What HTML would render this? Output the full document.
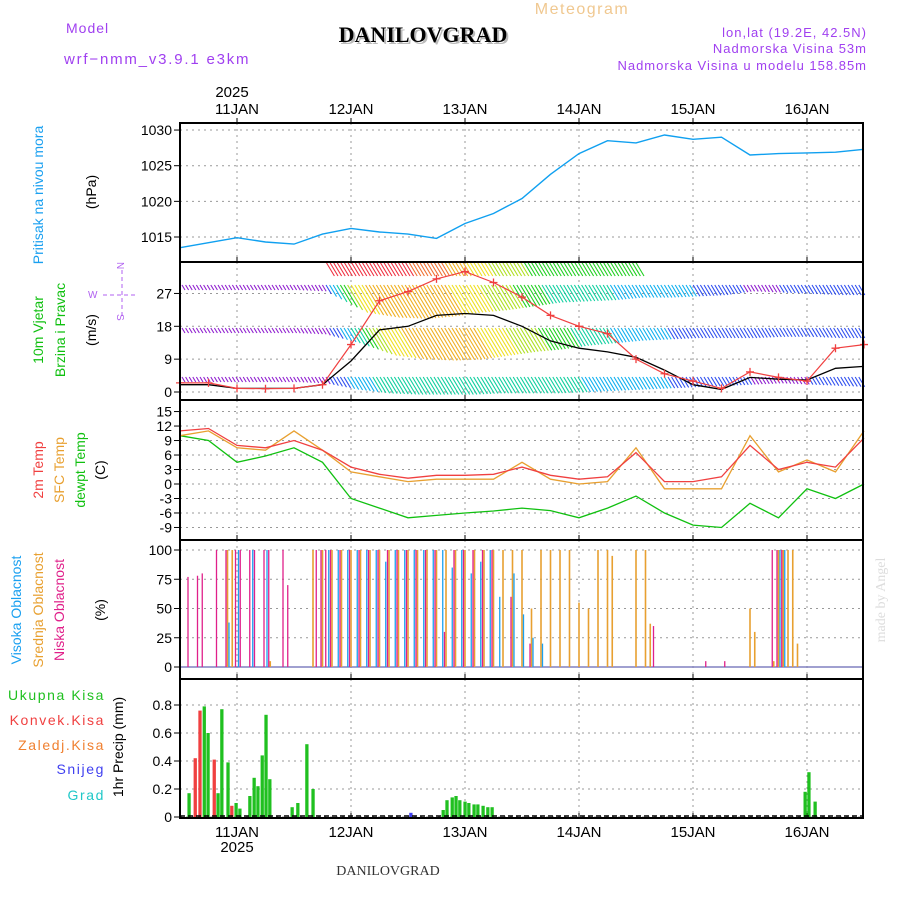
<!DOCTYPE html>
<html><head><meta charset="utf-8"><style>
html,body{margin:0;padding:0;background:#fff;}
svg{display:block;font-family:"Liberation Sans",sans-serif;}
</style></head><body>
<svg id="chart" width="900" height="900" viewBox="0 0 900 900">
<text x="66" y="33" font-size="14" fill="#a040f0" letter-spacing="1">Model</text>
<text x="64" y="64" font-size="15" fill="#a040f0" letter-spacing="1.8">wrf−nmm_v3.9.1 e3km</text>
<text x="582" y="14" font-size="16" fill="#f0c890" text-anchor="middle" letter-spacing="1.5">Meteogram</text>
<text x="425" y="44" font-size="22" font-weight="bold" font-family="Liberation Serif,serif" fill="#bbb" text-anchor="middle">DANILOVGRAD</text>
<text x="423" y="42" font-size="22" font-weight="bold" font-family="Liberation Serif,serif" fill="#000" text-anchor="middle">DANILOVGRAD</text>
<text x="867" y="37" font-size="13" fill="#a040f0" text-anchor="end" letter-spacing="1">lon,lat (19.2E, 42.5N)</text>
<text x="867" y="53" font-size="13" fill="#a040f0" text-anchor="end" letter-spacing="1">Nadmorska Visina 53m</text>
<text x="867" y="70" font-size="13" fill="#a040f0" text-anchor="end" letter-spacing="1">Nadmorska Visina u modelu 158.85m</text>
<text x="232" y="97" font-size="15" fill="#000" text-anchor="middle">2025</text>
<text x="237" y="852" font-size="15" fill="#000" text-anchor="middle">2025</text>
<text x="388" y="875" font-size="14" font-family="Liberation Serif,serif" fill="#333" text-anchor="middle">DANILOVGRAD</text>
<text transform="translate(885,600) rotate(-90)" font-size="14" font-family="Liberation Serif,serif" fill="#ddd" text-anchor="middle">made by Angel</text>

<g font-size="14">
<text transform="translate(43,195) rotate(-90)" fill="#1aa0f0" text-anchor="middle">Pritisak na nivou mora</text>
<text transform="translate(96,192) rotate(-90)" fill="#000" text-anchor="middle">(hPa)</text>
<text transform="translate(43,330) rotate(-90)" fill="#10c010" text-anchor="middle">10m Vjetar</text>
<text transform="translate(65,330) rotate(-90)" fill="#10c010" text-anchor="middle">Brzina i Pravac</text>
<text transform="translate(96,330) rotate(-90)" fill="#000" text-anchor="middle">(m/s)</text>
<text transform="translate(43,470) rotate(-90)" fill="#f04040" text-anchor="middle">2m Temp</text>
<text transform="translate(64,470) rotate(-90)" fill="#e8a030" text-anchor="middle">SFC Temp</text>
<text transform="translate(85,470) rotate(-90)" fill="#10c010" text-anchor="middle">dewpt Temp</text>
<text transform="translate(105,470) rotate(-90)" fill="#000" text-anchor="middle">(C)</text>
<text transform="translate(21,610) rotate(-90)" fill="#1aa0f0" text-anchor="middle">Visoka Oblacnost</text>
<text transform="translate(43,610) rotate(-90)" fill="#e8a030" text-anchor="middle">Srednja Oblacnost</text>
<text transform="translate(64,610) rotate(-90)" fill="#e0208a" text-anchor="middle">Niska Oblacnost</text>
<text transform="translate(105,610) rotate(-90)" fill="#000" text-anchor="middle">(%)</text>
<text transform="translate(123,747) rotate(-90)" fill="#000" text-anchor="middle">1hr Precip (mm)</text>
<text x="105" y="700" fill="#20c020" text-anchor="end" letter-spacing="1.6">Ukupna Kisa</text>
<text x="105" y="725" fill="#f04040" text-anchor="end" letter-spacing="1.6">Konvek.Kisa</text>
<text x="105" y="750" fill="#f08030" text-anchor="end" letter-spacing="1.6">Zaledj.Kisa</text>
<text x="105" y="774" fill="#4040f0" text-anchor="end" letter-spacing="1.6">Snijeg</text>
<text x="105" y="800" fill="#20c8c8" text-anchor="end" letter-spacing="1.6">Grad</text>
</g>
<g fill="#b060f0" stroke="#b060f0" font-size="10">
<text x="88" y="298" stroke="none">W</text><text x="117" y="270" stroke="none" transform="rotate(90 121 266)">N</text>
<text x="117" y="322" stroke="none" transform="rotate(90 121 318)">S</text>
<line x1="103" y1="295" x2="138" y2="295" stroke-dasharray="4,3"/><line x1="122" y1="270" x2="122" y2="318" stroke-dasharray="4,3"/>
</g>
<g id="plots"></g>
</svg>
<script>
// ---- data (6-hourly points from 10 JAN 12 UTC) ----
const dayLabels = ["11JAN","12JAN","13JAN","14JAN","15JAN","16JAN"];
const pressure = [1013.5,1014.2,1014.9,1014.3,1014.0,1015.4,1016.2,1015.7,1015.4,1014.8,1016.9,1018.3,1020.4,1023.8,1026.7,1028.5,1028.2,1029.3,1028.7,1029.0,1026.5,1026.7,1026.8,1026.9,1027.3];
const pressureTicks = [1015,1020,1025,1030];
const windTicks = [0,9,18,27];
const gust = [2.5,2.5,1,0.9,1,2,13,25,27.5,31,33,30,26,21,18,16,9,5,3,1,5.5,4,3,12,13];
const wind10 = [2,2,1,1,1,2,8.5,17,18,21,21.5,21,18,14,12,11,9.5,6,2,0.7,4,3.5,3.3,6.5,7];
const barbL1 = [0,0,0,0,0,0,30,31,30,28,24,20,18,17,16,15,0,0,0,0,0,0,0,0,0];
const barbL2 = [4,4,4,4,4,5,22,26,27,25,22,20,17,14,13,12,10,10,9,8,5,6,7,8,8];
const barbL3 = [4,4,4,4,4,5,12,22,25,26,25,22,19,17,14,12,10,9,8,8,8,7,7,8,8];
const barbL4 = [4,4,4,4,4,5,10,13,14,14,14,13,13,13,12,11,10,9,8,7,6,5,6,7,8];
const tempTicks = [-9,-6,-3,0,3,6,9,12,15];
const temp2m = [11,11.5,8,7.5,9,7,3.5,2,1.2,1.8,1.8,2,3.5,1.8,1,1.5,6.5,0.5,0.5,1.5,8,3,4.5,3.5,9.5];
const tempSfc = [10,11,7.5,7,11,7,2.5,1.5,0.5,1,1,1,4.5,1,0,0.5,7.5,-1,-1,-1,10,2.5,5,2.5,11];
const dewpt = [10,9,4.5,5.8,7.5,4.5,-3,-5,-7,-6.5,-6,-5.6,-5,-5.5,-7,-5,-2.5,-6,-8.5,-9,-4,-7,-1,-3,0];
const cloudTicks = [0,25,50,75,100];
// cloud: [hour, percent]
const lowCloud = [[2,77],[4,78],[5,80],[8,100],[10,100],[12,100],[13,100],[15,100],[16,100],[18,100],[19,100],[22,100],[23,70],[29,100],[30,100],[31,100],[32,100],[34,100],[36,100],[38,100],[40,100],[42,100],[44,100],[46,100],[48,100],[50,100],[52,100],[54,100],[56,30],[58,100],[60,100],[62,100],[64,100],[66,100],[70,60],[74,20],[100,35],[111,5],[115,5],[125,100],[126,100],[127,100]];
const midCloud = [[10,100],[11,100],[19,5],[28,100],[30,100],[32,100],[34,100],[36,100],[38,100],[40,100],[42,100],[44,100],[46,100],[48,100],[50,100],[52,100],[54,100],[56,100],[58,100],[60,100],[62,100],[64,100],[66,100],[68,100],[70,100],[72,100],[74,50],[76,100],[78,100],[80,100],[82,100],[84,55],[86,50],[88,100],[90,100],[91,95],[96,100],[98,100],[99,37],[120,50],[121,30],[125,5],[126,100],[127,100],[128,100],[129,100],[130,20]];
const highCloud = [[10,38],[12,100],[15,100],[18,100],[31,100],[33,100],[35,100],[37,100],[39,100],[41,100],[43,90],[45,100],[47,100],[49,100],[51,100],[53,100],[55,100],[57,85],[59,100],[61,80],[63,90],[65,100],[67,60],[70,80],[72,45],[74,25],[76,20],[126,100],[127,100]];
const precipTicks = [0,0.2,0.4,0.6,0.8];
const precipHours = [1.9,5.1,5.9,8,8.8,10.1,11.8,12.6,14.7,15.6,16.4,17.3,18.1,18.9,23.6,24.8,26.7,28,55.4,56.2,57.3,58.1,58.9,60,60.8,61.9,62.7,63.8,64.8,65.7,131.6,132.4,133.7];
const precipTotal = [0.17,0.79,0.6,0.17,0.77,0.39,0.1,0.06,0.15,0.28,0.22,0.44,0.73,0.27,0.07,0.1,0.52,0.2,0.05,0.12,0.14,0.15,0.12,0.11,0.1,0.09,0.09,0.08,0.07,0.07,0.18,0.32,0.11];
const convHours = [3.2,4.2,7.2,10.9];
const convVals = [0.42,0.76,0.41,0.08];
const snowHours = [48.6];
const snowVals = [0.03];

// ---- layout ----
const X0=180, X1=863, PXH=4.75;
const xh = h => X0 + h*PXH;
const xk = k => X0 + k*6*PXH;
const NS='http://www.w3.org/2000/svg';
const root=document.getElementById('plots');
function el(tag, attrs, parent){const e=document.createElementNS(NS,tag);for(const k in attrs)e.setAttribute(k,attrs[k]);(parent||root).appendChild(e);return e;}
const panels=[
 {name:'pressure',top:123,bot:262,y:v=>237-(v-1015)*7.13},
 {name:'wind',top:262,bot:400,y:v=>392-v*3.65},
 {name:'temp',top:400,bot:540,y:v=>484-v*4.83},
 {name:'cloud',top:540,bot:679,y:v=>667-v*1.17},
 {name:'precip',top:679,bot:818,y:v=>817-v*140}
];
function grid(p,ticks,fmt){
  const g=el('g',{});
  
  
  ticks.forEach(t=>{const y=p.y(t);
    el('line',{x1:X0,x2:X1,y1:y,y2:y,stroke:'#999','stroke-dasharray':'2,4'},g);
    el('line',{x1:X0-6,x2:X0,y1:y,y2:y,stroke:'#000'},g);
    const tx=el('text',{x:X0-8,y:y+5,'font-size':14,'text-anchor':'end',fill:'#000'},g);tx.textContent=fmt?fmt(t):t;});
  dayLabels.forEach((d,i)=>{const x=X0+57+i*114;
    el('line',{x1:x,x2:x,y1:p.top,y2:p.bot,stroke:'#999','stroke-dasharray':'2,4'},g);
    el('line',{x1:x,x2:x,y1:p.bot-5,y2:p.bot,stroke:'#000'},g);});
}
function poly(p,vals,color,name,w){
  const pts=vals.map((v,k)=>xk(k).toFixed(1)+','+p.y(v).toFixed(1)).join(' ');
  const e=el('polyline',{points:pts,fill:'none',stroke:color,'stroke-width':w||1.2});
  
  
  return e;
}
const P=panels;
grid(P[0],pressureTicks);
poly(P[0],pressure,'#10a0f0','pressure-line',1.4);
grid(P[1],windTicks);
function spdColor(s){
  const c=['#9020d0','#3050f0','#10b0f0','#10d0a0','#20d020','#b0e020','#f0e020','#f0b020','#f07030','#f03040','#f02090'];
  return c[Math.max(0,Math.min(c.length-1,Math.floor((s-3)/3)))];
}
function barbs(arr,base,maxLen,name){
  const g=el('g',{});
  
  
  for(let x=X0+2;x<X1-2;x+=3.6){
    const kf=(x-X0)/(6*PXH), k=Math.floor(kf), f=kf-k;
    const a=arr[k], b=arr[Math.min(k+1,arr.length-1)];
    if(a===0&&b===0) continue;
    const s=(a===0||b===0)?Math.max(a,b)*(a===0?f:1-f)>0?(a||b):0:a+(b-a)*f;
    if(s<=0) continue;
    const len=Math.min(maxLen,s*1.25);
    el('line',{x1:x,y1:base,x2:x+len*0.6,y2:base+len,stroke:spdColor(s),'stroke-width':1.1},g);
  }
}
barbs(barbL1,262,14,'barbs-upper-level');
barbs(barbL2,285,34,'barbs-level-2');
barbs(barbL3,328,38,'barbs-level-3');
barbs(barbL4,377,22,'barbs-10m');
poly(P[1],wind10,'#000','wind-speed-line',1.3);
poly(P[1],gust,'#f04040','gust-line',1.2);
gust.forEach((v,k)=>{const x=xk(k),y=P[1].y(v);
  const c=el('path',{d:`M${x-4} ${y}H${x+4}M${x} ${y-4}V${y+4}`,stroke:'#f04040','stroke-width':1.3});
  
  });
grid(P[2],tempTicks);
poly(P[2],dewpt,'#10c010','dewpoint-line',1.3);
poly(P[2],tempSfc,'#e8a030','sfc-temp-line',1.3);
poly(P[2],temp2m,'#f04040','temp-2m-line',1.3);
grid(P[3],cloudTicks);
el('line',{x1:X0,x2:X1,y1:P[3].y(0),y2:P[3].y(0),stroke:'#8080c0','stroke-width':1.5});
function cloudBars(arr,color,off,name){
  arr.forEach(([h,v])=>{const x=xh(h)+off;
    const r=el('line',{x1:x,x2:x,y1:P[3].y(0),y2:P[3].y(v),stroke:color,'stroke-width':color==='#e8a030'?1.6:1.3});
    
    });
}
cloudBars(midCloud,'#e8a030',0,'mid-cloud-bar');
cloudBars(highCloud,'#1aa0f0',1.5,'high-cloud-bar');
cloudBars(lowCloud,'#e0208a',-1.5,'low-cloud-bar');
grid(P[4],precipTicks,t=>t===0?'0':t.toFixed(1));
function pbars(hours,vals,color,name){
  hours.forEach((h,i)=>{const x=xh(h),y=P[4].y(vals[i]);
    const r=el('rect',{x:x-1.6,y:y,width:3.3,height:P[4].y(0)-y,fill:color});
    
    });
}
pbars(precipHours,precipTotal,'#20c020','precip-total-bar');
pbars(convHours,convVals,'#f04040','precip-convective-bar');
pbars(snowHours,snowVals,'#4040f0','precip-snow-bar');
el('line',{x1:X0,x2:X1,y1:816,y2:816,stroke:'#000','stroke-dasharray':'5,3','stroke-width':1.5});
panels.forEach(p=>{const r=el('rect',{x:X0,y:p.top,width:X1-X0,height:p.bot-p.top,fill:'none',stroke:'#000','stroke-width':2});
  
  });
dayLabels.forEach((d,i)=>{const x=X0+57+i*114;
  const t=el('text',{x:x,y:114,'font-size':15,'text-anchor':'middle',fill:'#000'});t.textContent=d;
  
  
  const b=el('text',{x:x,y:837,'font-size':15,'text-anchor':'middle',fill:'#000'});b.textContent=d;
  
  
  el('line',{x1:x,x2:x,y1:118,y2:123,stroke:'#000'});});
</script>
</body></html>
